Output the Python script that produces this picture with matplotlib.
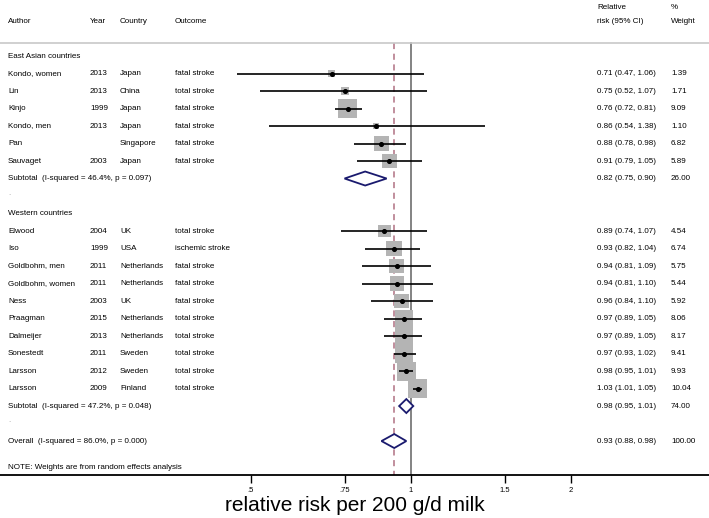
import numpy as np
import matplotlib.pyplot as plt
import matplotlib.transforms as mtransforms

plt.rcParams['font.family'] = ['Liberation Sans', 'DejaVu Sans']

# study data
authors = ["Kondo, women", "Lin", "Kinjo", "Kondo, men", "Pan", "Sauvaget",
           "Elwood", "Iso", "Goldbohm, men", "Goldbohm, women", "Ness", "Praagman",
           "Dalmeijer", "Sonestedt", "Larsson", "Larsson"]
years = ["2013", "2013", "1999", "2013", "", "2003",
         "2004", "1999", "2011", "2011", "2003", "2015", "2013", "2011", "2012", "2009"]
countries = ["Japan", "China", "Japan", "Japan", "Singapore", "Japan",
             "UK", "USA", "Netherlands", "Netherlands", "UK", "Netherlands",
             "Netherlands", "Sweden", "Sweden", "Finland"]
outcomes = ["fatal stroke", "total stroke", "fatal stroke", "fatal stroke", "fatal stroke", "fatal stroke",
            "total stroke", "ischemic stroke", "fatal stroke", "fatal stroke", "fatal stroke", "total stroke",
            "total stroke", "total stroke", "total stroke", "total stroke"]
rr = [0.71, 0.75, 0.76, 0.86, 0.88, 0.91,
      0.89, 0.93, 0.94, 0.94, 0.96, 0.97, 0.97, 0.97, 0.98, 1.03]
lo = [0.47, 0.52, 0.72, 0.54, 0.78, 0.79,
      0.74, 0.82, 0.81, 0.81, 0.84, 0.89, 0.89, 0.93, 0.95, 1.01]
hi = [1.06, 1.07, 0.81, 1.38, 0.98, 1.05,
      1.07, 1.04, 1.09, 1.10, 1.10, 1.05, 1.05, 1.02, 1.01, 1.05]
weights = [1.39, 1.71, 9.09, 1.10, 6.82, 5.89,
           4.54, 6.74, 5.75, 5.44, 5.92, 8.06, 8.17, 9.41, 9.93, 10.04]
study_rows = [1, 2, 3, 4, 5, 6, 10, 11, 12, 13, 14, 15, 16, 17, 18, 19]

# pooled estimates
pooled_labels = ["Subtotal  (I-squared = 46.4%, p = 0.097)",
                 "Subtotal  (I-squared = 47.2%, p = 0.048)",
                 "Overall  (I-squared = 86.0%, p = 0.000)"]
pooled_rr = [0.82, 0.98, 0.93]
pooled_lo = [0.75, 0.95, 0.88]
pooled_hi = [0.90, 1.01, 0.98]
pooled_w = [26.00, 74.00, 100.00]
pooled_rows = [7, 20, 22]

group_labels = ["East Asian countries", "Western countries"]
group_rows = [0, 9]
dot_rows = [8, 21]

xticks = [0.5, 0.75, 1, 1.5, 2]
xticklabels = [".5", ".75", "1", "1.5", "2"]

W, H = 709, 518
fig = plt.figure(figsize=(W / 100, H / 100), dpi=100)
ax = fig.add_axes([0, 1 - 475 / H, 1, 475 / H])
ax.set_xscale('log')
ax.set_xlim(np.exp(-411 / 231), np.exp((W - 411) / 231))
ax.set_ylim(23.94, -56 / 17.5)
for s in ['top', 'left', 'right']:
    ax.spines[s].set_visible(False)
ax.spines['bottom'].set_linewidth(1.3)
ax.set_yticks([])
ax.set_xticks(xticks)
ax.set_xticklabels(xticklabels, fontsize=5.5)
ax.xaxis.set_minor_locator(plt.NullLocator())
ax.tick_params(axis='x', length=6, width=1, pad=3)
ax.set_xlabel("relative risk per 200 g/d milk", fontsize=15, labelpad=1)

tr = mtransforms.blended_transform_factory(ax.transAxes, ax.transData)
fs = 5.75

def px(x):
    return x / W

def txt(x, y, s, **kw):
    ax.text(px(x), y, s, transform=tr, fontsize=fs, va='center', ha='left', **kw)

# header
top_y = -0.74
ax.plot([0, 1], [top_y, top_y], transform=tr, color='#c8c8c8', lw=1.2, clip_on=False)
for x, t in zip([8, 90, 120, 175], ["Author", "Year", "Country", "Outcome"]):
    txt(x, -2, t)
txt(597, -2.8, "Relative")
txt(597, -2, "risk (95% CI)")
txt(671, -2.8, "%")
txt(671, -2, "Weight")

# reference lines
ax.plot([1, 1], [top_y, 23.94], color='#6e6e6e', lw=1.2, zorder=1)
ax.plot([pooled_rr[2]] * 2, [top_y, 23.94], color='#b07082', lw=1.1,
        ls=(0, (4, 3)), zorder=1)

for lab, r in zip(group_labels, group_rows):
    txt(8, r, lab)
for r in dot_rows:
    txt(8, r - 0.15, ".", color='#999999')

# studies
ax.scatter(rr, study_rows, marker='s', s=[19 * w for w in weights],
           color='#b4b4b4', edgecolors='none', zorder=2)
ax.hlines(study_rows, lo, hi, color='black', lw=1.2, zorder=3)
ax.scatter(rr, study_rows, marker='o', s=7, color='black', zorder=4)
for i, r in enumerate(study_rows):
    txt(8, r, authors[i])
    txt(90, r, years[i])
    txt(120, r, countries[i])
    txt(175, r, outcomes[i])
    txt(597, r, f"{rr[i]:.2f} ({lo[i]:.2f}, {hi[i]:.2f})")
    txt(671, r, f"{weights[i]:.2f}")

# pooled diamonds
dh = 0.4
for i, r in enumerate(pooled_rows):
    xs = [pooled_lo[i], pooled_rr[i], pooled_hi[i], pooled_rr[i], pooled_lo[i]]
    ys = [r, r - dh, r, r + dh, r]
    ax.fill(xs, ys, facecolor='white', edgecolor='#1a1a6e', lw=1.3, zorder=5)
    txt(8, r, pooled_labels[i])
    txt(597, r, f"{pooled_rr[i]:.2f} ({pooled_lo[i]:.2f}, {pooled_hi[i]:.2f})")
    txt(671, r, f"{pooled_w[i]:.2f}")

txt(8, 23.5, "NOTE: Weights are from random effects analysis")

fig.savefig("out.png", dpi=100)
